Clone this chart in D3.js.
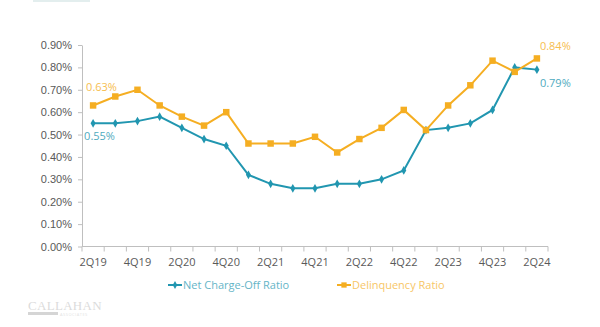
<!DOCTYPE html>
<html>
<head>
<meta charset="utf-8">
<script src="https://cdn.jsdelivr.net/npm/d3@7"></script>
<style>
  body { margin: 0; background: #fff; }
  svg { display: block; font-family: "Open Sans", "Liberation Sans", sans-serif; }
  .axis text { fill: #595959; font-size: 11px; }
  .axis path, .axis line { stroke: #bfbfbf; }
</style>
</head>
<body>
<div id="chart"></div>
<script>
// quarterly ratios, in percent
const quarters = ['2Q19', '3Q19', '4Q19', '1Q20', '2Q20', '3Q20', '4Q20', '1Q21', '2Q21', '3Q21', '4Q21',
  '1Q22', '2Q22', '3Q22', '4Q22', '1Q23', '2Q23', '3Q23', '4Q23', '1Q24', '2Q24'];
const chargeOff = [0.55, 0.55, 0.56, 0.58, 0.53, 0.48, 0.45, 0.32, 0.28, 0.26, 0.26,
  0.28, 0.28, 0.30, 0.34, 0.52, 0.53, 0.55, 0.61, 0.80, 0.79];
const delinquency = [0.63, 0.67, 0.70, 0.63, 0.58, 0.54, 0.60, 0.46, 0.46, 0.46, 0.49,
  0.42, 0.48, 0.53, 0.61, 0.52, 0.63, 0.72, 0.83, 0.78, 0.84];
const yTicks = [0, 0.1, 0.2, 0.3, 0.4, 0.5, 0.6, 0.7, 0.8, 0.9];

const TEAL = '#2196b0';
const GOLD = '#f5ae22';

const width = 600;
const height = 327;
const margin = { top: 45, right: 52, bottom: 80.5, left: 82 };

const $svg = d3.select('#chart').append('svg')
  .attr('width', width)
  .attr('height', height);

const scaleX = d3.scaleBand()
  .domain(quarters)
  .range([margin.left, width - margin.right]);

const scaleY = d3.scaleLinear()
  .domain([0, 0.9])
  .range([height - margin.bottom, margin.top]);

const xPos = d => scaleX(d) + scaleX.bandwidth() / 2;

// faint header strip
$svg.append('rect')
  .attr('x', 33).attr('y', 0).attr('width', 57).attr('height', 2)
  .attr('fill', '#e3eeee');

// y axis
$svg.append('g')
  .attr('class', 'axis')
  .attr('transform', `translate(${margin.left},0)`)
  .call(d3.axisLeft(scaleY)
    .tickValues(yTicks)
    .tickSize(4)
    .tickSizeOuter(0)
    .tickPadding(6)
    .tickFormat(d => `${d.toFixed(2)}%`));

// x axis: tick marks on band edges, labels every other quarter
const $xAxis = $svg.append('g')
  .attr('class', 'axis')
  .attr('transform', `translate(0,${height - margin.bottom})`);

$xAxis.append('line')
  .attr('x1', margin.left).attr('x2', width - margin.right)
  .attr('stroke', '#bfbfbf');

const edges = quarters.map(q => scaleX(q)).concat([scaleX.range()[1]]);
$xAxis.selectAll('.edge')
  .data(edges)
  .join('line')
  .attr('class', 'edge')
  .attr('x1', d => d).attr('x2', d => d)
  .attr('y1', 0).attr('y2', 5)
  .attr('stroke', '#bfbfbf');

$xAxis.selectAll('.label')
  .data(quarters.filter((q, i) => i % 2 === 0))
  .join('text')
  .attr('class', 'label')
  .attr('x', xPos)
  .attr('y', 19)
  .attr('text-anchor', 'middle')
  .text(d => d);

const line = d3.line()
  .x(d => xPos(d.q))
  .y(d => scaleY(d.v));

const seriesList = [
  { key: 'chargeOff', color: TEAL, values: chargeOff, shape: d3.symbolDiamond, size: 22 },
  { key: 'delinquency', color: GOLD, values: delinquency, shape: d3.symbolSquare, size: 42 },
];

seriesList.forEach(s => {
  const pts = s.values.map((v, i) => ({ q: quarters[i], v }));
  const $g = $svg.append('g').attr('class', `series series--${s.key}`);
  $g.append('path')
    .datum(pts)
    .attr('d', line)
    .attr('fill', 'none')
    .attr('stroke', s.color)
    .attr('stroke-width', 2);
  $g.selectAll('path.marker')
    .data(pts)
    .join('path')
    .attr('class', 'marker')
    .attr('d', d3.symbol(s.shape, s.size))
    .attr('transform', d => `translate(${xPos(d.q)},${scaleY(d.v)})`)
    .attr('fill', s.color);
});

// end-point value labels
const fmt = v => `${v.toFixed(2)}%`;
const valueLabels = [
  { q: quarters[0], v: delinquency[0], color: GOLD, dx: -7, dy: -14 },
  { q: quarters[0], v: chargeOff[0], color: TEAL, dx: -9, dy: 17 },
  { q: quarters[quarters.length - 1], v: delinquency[delinquency.length - 1], color: GOLD, dx: 3, dy: -8 },
  { q: quarters[quarters.length - 1], v: chargeOff[chargeOff.length - 1], color: TEAL, dx: 3, dy: 17 },
];
$svg.selectAll('.value-label')
  .data(valueLabels)
  .join('text')
  .attr('class', 'value-label')
  .attr('x', d => xPos(d.q) + d.dx)
  .attr('y', d => scaleY(d.v) + d.dy)
  .attr('font-size', 11)
  .attr('fill', d => d.color)
  .attr('opacity', 0.8)
  .text(d => fmt(d.v));

// legend
const legendItems = [
  { label: 'Net Charge-Off Ratio', color: TEAL, shape: d3.symbolDiamond, size: 18, x: 168 },
  { label: 'Delinquency Ratio', color: GOLD, shape: d3.symbolSquare, size: 28, x: 337 },
];
const $legend = $svg.append('g').attr('class', 'legend')
  .attr('transform', 'translate(0,285)');
const $item = $legend.selectAll('g')
  .data(legendItems)
  .join('g')
  .attr('transform', d => `translate(${d.x},0)`);
$item.append('line')
  .attr('x1', 0).attr('x2', 14)
  .attr('stroke', d => d.color)
  .attr('stroke-width', 2);
$item.append('path')
  .attr('d', d => d3.symbol(d.shape, d.size)())
  .attr('transform', 'translate(7,0)')
  .attr('fill', d => d.color);
$item.append('text')
  .attr('x', 15)
  .attr('y', 4)
  .attr('font-size', 11)
  .attr('fill', d => d.color)
  .attr('opacity', 0.7)
  .text(d => d.label);

// logo
const $logo = $svg.append('g').attr('transform', 'translate(28,0)').attr('opacity', 0.35);
$logo.append('text')
  .attr('x', 0).attr('y', 310)
  .attr('font-family', '"Liberation Serif", serif')
  .attr('font-size', 13)
  .attr('letter-spacing', 0.3)
  .attr('fill', '#9a9a9a')
  .text('CALLAHAN');
$logo.append('rect')
  .attr('x', 0).attr('y', 312).attr('width', 30).attr('height', 3)
  .attr('fill', '#8a8a8a');
$logo.append('text')
  .attr('x', 32).attr('y', 315.5)
  .attr('font-size', 4)
  .attr('letter-spacing', 0.5)
  .attr('fill', '#aaaaaa')
  .text('ASSOCIATES');
</script>
</body>
</html>
